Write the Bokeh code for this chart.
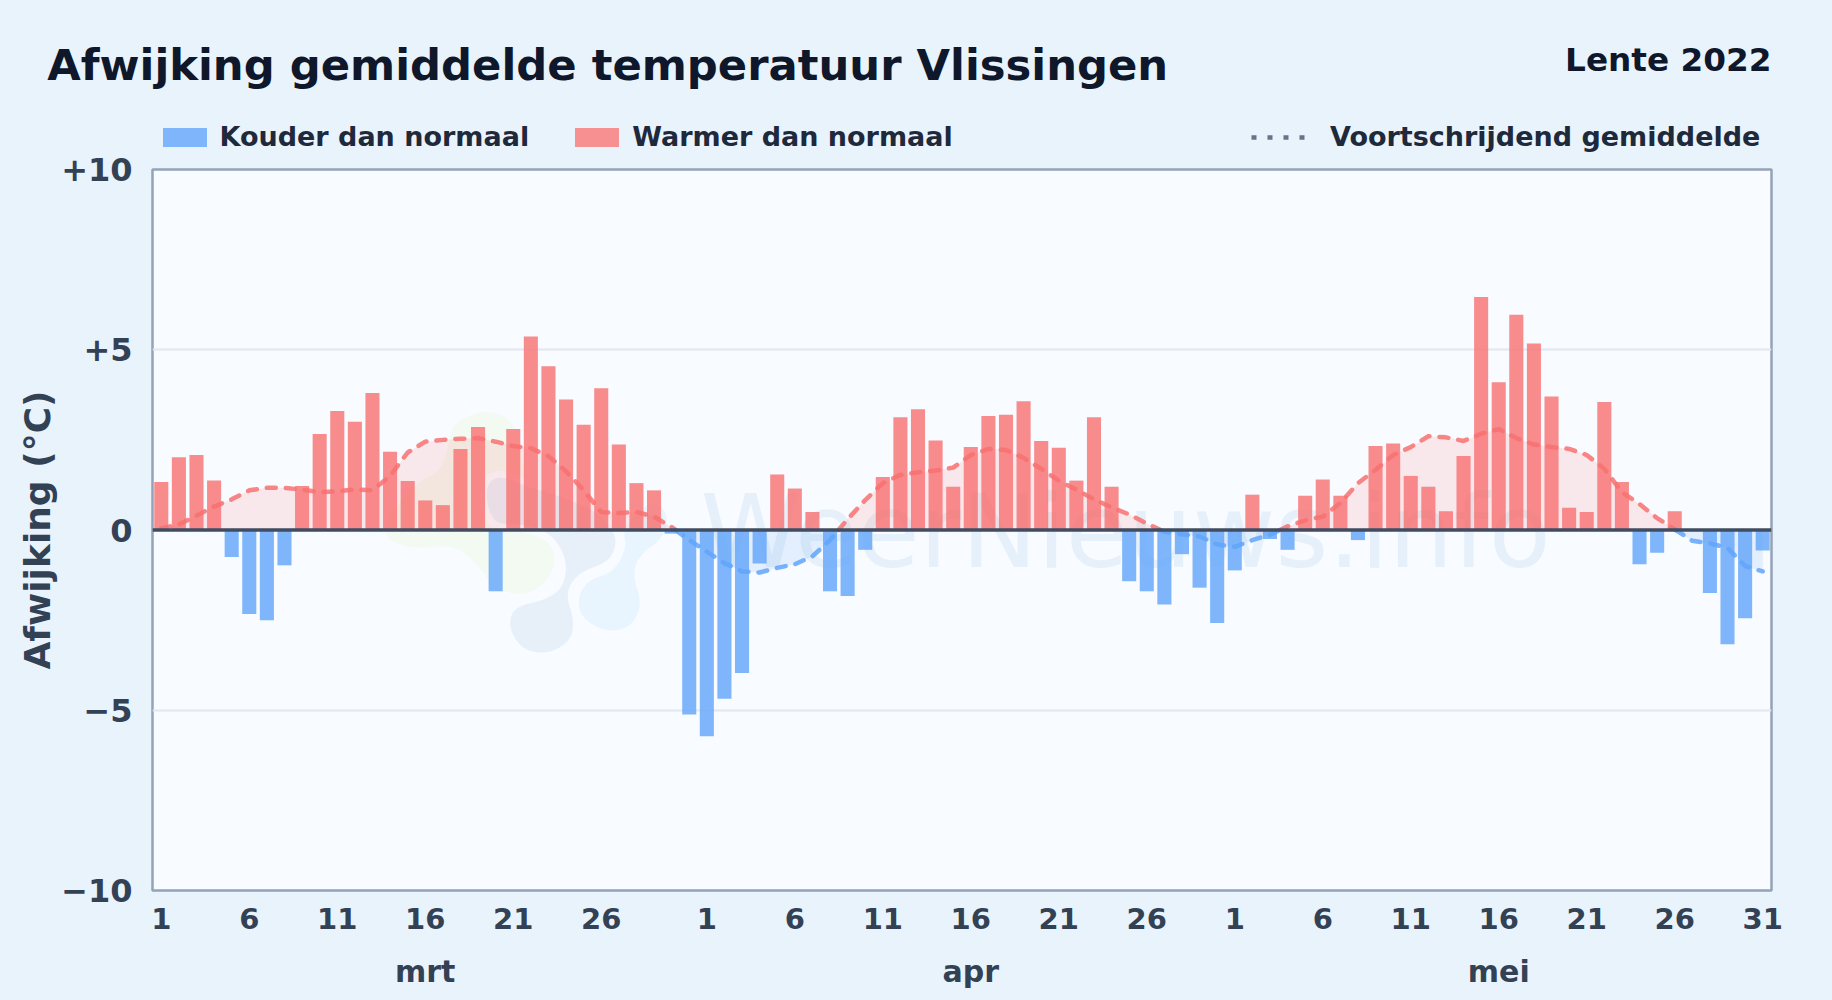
import numpy as np
from bokeh.core.properties import value
from bokeh.embed import file_html
from bokeh.layouts import column
from bokeh.models import FixedTicker, Label, Legend, LegendItem, LinearAxis, Range1d, Span
from bokeh.plotting import figure
from bokeh.resources import INLINE

title_text = "Afwijking gemiddelde temperatuur Vlissingen"
season_text = "Lente 2022"
y_title = "Afwijking (°C)"
watermark_text = "WeerNieuws.info"
legend_cold = "Kouder dan normaal"
legend_warm = "Warmer dan normaal"
legend_avg = "Voortschrijdend gemiddelde"

month_names = ["mrt", "apr", "mei"]
month_lengths = [31, 30, 31]
month_centers = [15, 46, 76]
tick_days = [1, 6, 11, 16, 21, 26]
y_ticks = [-10, -5, 0, 5, 10]
y_tick_labels = ["−10", "−5", "0", "+5", "+10"]

anomaly_mrt = [1.33, 2.02, 2.08, 1.37, -0.75, -2.33, -2.5, -0.98, 1.22, 2.66, 3.3, 3.0, 3.8, 2.17, 1.36, 0.82,
               0.69, 2.25, 2.86, -1.7, 2.8, 5.37, 4.54, 3.62, 2.92, 3.93, 2.37, 1.3, 1.1, -0.1, -5.12]
anomaly_apr = [-5.72, -4.68, -3.97, -0.93, 1.54, 1.15, 0.5, -1.7, -1.83, -0.55, 1.47, 3.13, 3.35, 2.48, 1.2,
               2.3, 3.16, 3.2, 3.57, 2.47, 2.28, 1.37, 3.13, 1.2, -1.42, -1.7, -2.07, -0.67, -1.6, -2.58]
anomaly_mei = [-1.12, 0.98, -0.25, -0.55, 0.95, 1.4, 0.95, -0.28, 2.33, 2.4, 1.5, 1.2, 0.52, 2.05, 6.46, 4.1,
               5.97, 5.17, 3.7, 0.62, 0.5, 3.55, 1.33, -0.95, -0.63, 0.52, 0.0, -1.75, -3.17, -2.45, -0.57]

moving_avg = [0.05, 0.15, 0.4, 0.65, 0.85, 1.1, 1.17, 1.17, 1.12, 1.05, 1.07, 1.13, 1.1, 1.5, 2.15, 2.45, 2.5,
              2.53, 2.55, 2.45, 2.33, 2.27, 2.05, 1.63, 1.1, 0.5, 0.47, 0.5, 0.37, 0.08, -0.28,
              -0.6, -0.92, -1.15, -1.18, -1.05, -0.95, -0.73, -0.28, 0.3, 0.83, 1.3, 1.53, 1.6, 1.65, 1.73,
              2.08, 2.25, 2.22, 2.0, 1.7, 1.37, 1.12, 0.85, 0.63, 0.43, 0.18, -0.05, -0.12, -0.18, -0.4,
              -0.47, -0.28, -0.13, 0.1, 0.27, 0.37, 0.75, 1.3, 1.67, 2.08, 2.3, 2.6, 2.57, 2.47, 2.67, 2.8,
              2.55, 2.37, 2.3, 2.25, 2.08, 1.7, 1.05, 0.72, 0.33, 0.02, -0.3, -0.37, -0.5, -1.0, -1.15]

RED, BLUE = "#f87171", "#60a5fa"
PAGE_BG = "#e9f3fc"
FONT = "DejaVu Sans"
HEAD_H = 155      # header strip height
OVERLAP = 9       # the chart's transparent top border overlaps the strip by this much
FRAME_L, FRAME_T, FRAME_W, FRAME_H = 152, 169, 1619, 721

anomaly = np.array(anomaly_mrt + anomaly_apr + anomaly_mei)
days = np.arange(len(anomaly))
ma = np.array(moving_avg)

# day tick labels
tick_pos, overrides, start = [], {}, 0
for length in month_lengths:
    for d in tick_days + ([31] if start + length == len(anomaly) else []):
        tick_pos.append(start + d - 1)
        overrides[start + d - 1] = str(d)
    start += length

# zero crossings of the moving average, so colour can change exactly at 0
xs, ys = [days[0]], [ma[0]]
for i in range(1, len(ma)):
    if ma[i - 1] * ma[i] < 0:
        xs.append(days[i - 1] + ma[i - 1] / (ma[i - 1] - ma[i]))
        ys.append(0.0)
    xs.append(days[i])
    ys.append(ma[i])
xs, ys = np.array(xs, float), np.array(ys)

# ---- header strip: title, season, legend ----
head = figure(width=1832, height=HEAD_H, output_backend="svg", toolbar_location=None,
              x_range=Range1d(0, 1832), y_range=Range1d(HEAD_H, 0),
              min_border=0, outline_line_color=None, frame_align=False)
head.axis.visible = False
head.grid.visible = False
head.background_fill_color = PAGE_BG
head.border_fill_color = PAGE_BG

head.text(x=[46.7], y=[64], text=[title_text], text_font=value(FONT), text_font_style="bold",
          text_font_size="43.3px", text_color="#0f172a", text_baseline="middle")
head.text(x=[1771], y=[59], text=[season_text], text_font=value(FONT), text_font_style="bold",
          text_font_size="32.7px", text_color="#0f172a", text_align="right", text_baseline="middle")

# key-only renderers: zero-sized, they just give the legend its swatches
r_cold_key = head.vbar(x=[0], top=[0], bottom=[0], width=0, color="#7fb5fa", line_width=0)
r_warm_key = head.vbar(x=[0], top=[0], bottom=[0], width=0, color="#f79090", line_width=0)
r_avg_key = head.line(x=[0, 0], y=[0, 0], line_color="#64748b", line_width=4.5, line_dash="5 11")
legend_style = dict(orientation="horizontal", background_fill_alpha=0, border_line_color=None,
                    label_text_font=FONT, label_text_font_style="bold", label_text_font_size="27px",
                    label_text_color="#1e293b", margin=0, padding=0)
head.add_layout(Legend(items=[LegendItem(label=legend_cold, renderers=[r_cold_key]),
                              LegendItem(label=legend_warm, renderers=[r_warm_key])],
                       location=(156.5, 3), glyph_width=55, glyph_height=24, label_standoff=8, spacing=40,
                       **legend_style), "center")
head.add_layout(Legend(items=[LegendItem(label=legend_avg, renderers=[r_avg_key])],
                       location=(1251, 3), glyph_width=56, glyph_height=20, label_standoff=23,
                       **legend_style), "center")

# ---- main chart ----
p = figure(width=1832, height=1000 - HEAD_H + OVERLAP, output_backend="svg", toolbar_location=None,
           x_range=Range1d(-0.5, 91.5), y_range=Range1d(-10, 10),
           frame_width=FRAME_W, frame_height=FRAME_H, frame_align=False,
           min_border_left=FRAME_L, min_border_top=FRAME_T - HEAD_H + OVERLAP,
           min_border_right=1832 - FRAME_L - FRAME_W, min_border_bottom=1000 - FRAME_T - FRAME_H,
           margin=(-OVERLAP, 0, 0, 0))
p.background_fill_color = "#f8fbff"
p.border_fill_alpha = 0
p.outline_line_color = "#94a3b8"
p.outline_line_width = 2.5

p.xaxis.ticker = FixedTicker(ticks=tick_pos)
p.xaxis.major_label_overrides = overrides
p.yaxis.ticker = FixedTicker(ticks=y_ticks)
p.yaxis.major_label_overrides = dict(zip(y_ticks, y_tick_labels))
p.yaxis.axis_label = y_title
p.yaxis.axis_label_text_font = FONT
p.yaxis.axis_label_text_font_style = "bold"
p.yaxis.axis_label_text_font_size = "36px"
p.yaxis.axis_label_text_color = "#334155"
p.yaxis.axis_label_standoff = 0
for ax in (p.xaxis[0], p.yaxis[0]):
    ax.axis_line_color = None
    ax.major_tick_line_color = None
    ax.minor_tick_line_color = None
    ax.major_label_text_font = FONT
    ax.major_label_text_font_style = "bold"
    ax.major_label_text_color = "#334155"
p.xaxis.major_label_text_font_size = "29px"
p.yaxis.major_label_text_font_size = "32px"
p.xaxis.major_label_standoff = 11
p.yaxis.major_label_standoff = 14

month_axis = LinearAxis(ticker=FixedTicker(ticks=month_centers),
                        major_label_overrides=dict(zip(month_centers, month_names)),
                        axis_line_color=None, major_tick_line_color=None, minor_tick_line_color=None,
                        major_label_text_font=FONT, major_label_text_font_style="bold",
                        major_label_text_font_size="30px", major_label_text_color="#334155",
                        major_label_standoff=16)
p.add_layout(month_axis, "below")

p.xgrid.visible = False
p.ygrid.ticker = FixedTicker(ticks=[-5, 5])
p.ygrid.grid_line_color = "#e2e8f0"
p.ygrid.grid_line_width = 2


# watermark logo outlines (decoration), traced in page pixels
def smooth(points, rounds=3):
    pts = np.array(points, float)
    for _ in range(rounds):
        nxt = np.roll(pts, -1, axis=0)
        pts = np.column_stack([0.75 * pts + 0.25 * nxt, 0.25 * pts + 0.75 * nxt]).reshape(-1, 2)
    return pts


def logo_patch(points, color, ring=None):
    pts = smooth(points) / 3.0 + np.array([360.0, 390.0])
    x = (pts[:, 0] - FRAME_L) / (FRAME_W / 92) - 0.5
    y = (FRAME_T + FRAME_H / 2 - pts[:, 1]) / (FRAME_H / 20)
    p.patch(x=x, y=y, fill_color=color, line_color=ring, line_width=7, level="underlay")


logo_patch([(270, 110), (330, 70), (400, 62), (455, 90), (475, 150), (500, 300), (560, 430), (590, 520), (540, 595),
            (470, 615), (400, 590), (350, 520), (280, 462), (170, 475), (90, 455), (65, 410), (120, 330),
            (180, 270), (240, 240), (265, 170)], "#f3faf1")
logo_patch([(655, 610), (690, 565), (760, 545), (800, 470), (785, 420), (850, 345), (900, 340), (925, 390),
            (900, 450), (840, 490), (815, 550), (845, 640), (815, 705), (755, 725), (695, 705), (655, 665)],
           "#e9f5fe")
logo_patch([(370, 270), (420, 245), (480, 270), (700, 340), (775, 420), (775, 480), (745, 525), (660, 555), (625, 610),
            (650, 680), (645, 745), (600, 785), (545, 800), (480, 785), (438, 725), (440, 665), (475, 635),
            (545, 620), (595, 590), (610, 530), (590, 470), (550, 430), (470, 410), (400, 410), (368, 350)],
           "#e7f0f8", "#f8fbff")
p.add_layout(Label(x=700 - FRAME_L, y=FRAME_T + FRAME_H - 590, x_units="screen", y_units="screen",
                   text=watermark_text, text_font=FONT, text_baseline="bottom", text_font_size="101.5px",
                   text_color="#e6f0fa", level="underlay"))

# marks
warm = anomaly > 0
cold = anomaly < 0
p.vbar(x=days[cold], top=0, bottom=anomaly[cold], width=0.8, color=BLUE, alpha=0.8, line_width=0)
p.vbar(x=days[warm], top=anomaly[warm], bottom=0, width=0.8, color=RED, alpha=0.8, line_width=0)

p.varea(x=xs, y1=0, y2=np.clip(ys, 0, None), fill_color=RED, fill_alpha=0.14)
p.varea(x=xs, y1=0, y2=np.clip(ys, None, 0), fill_color=BLUE, fill_alpha=0.14)

for color, sign in ((RED, 1), (BLUE, -1)):
    vals = np.where(sign * ys >= 0, ys, np.nan)
    p.line(x=xs, y=vals, line_color=color, line_width=4.5, line_alpha=0.85, line_dash="9 10", line_cap="round")

p.add_layout(Span(location=0, dimension="width", line_color="#3f4c62", line_width=3.5))

page = column(head, p, spacing=0)
html = file_html(page, INLINE)
html = html.replace("<head>", "<head><style>html,body{background:%s}</style>" % PAGE_BG, 1)
open("out.html", "w").write(html)
